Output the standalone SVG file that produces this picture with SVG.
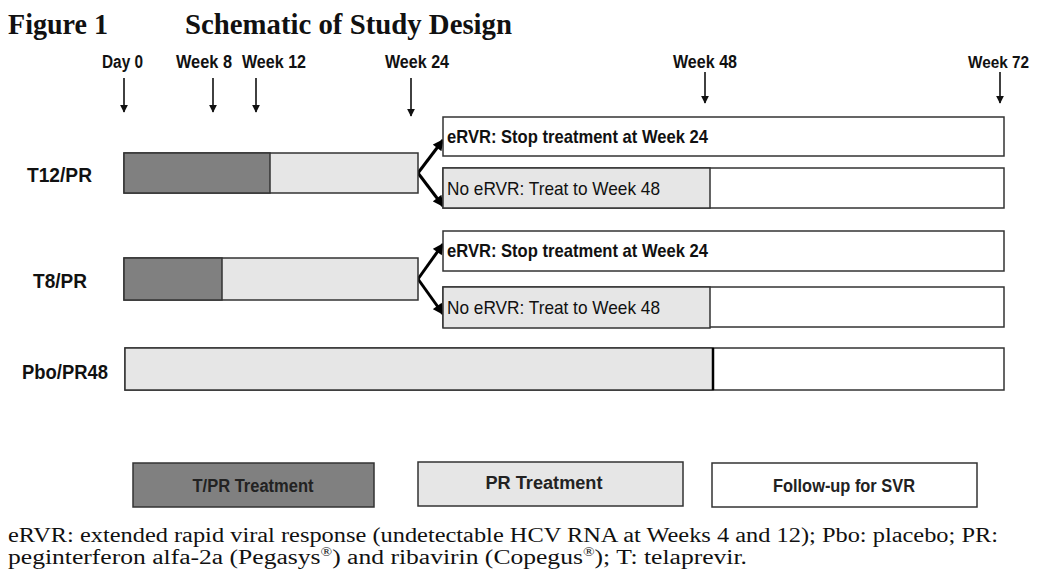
<svg xmlns="http://www.w3.org/2000/svg" width="1037" height="576" viewBox="0 0 1037 576">
<defs>
<style>
.title{font-family:"Liberation Serif","Times New Roman",serif;font-weight:bold;font-size:30px;fill:#111}
.wk{font-family:"Liberation Sans",Arial,sans-serif;font-weight:bold;font-size:18px;fill:#111}
.row{font-family:"Liberation Sans",Arial,sans-serif;font-weight:bold;font-size:20px;fill:#111}
.bx{font-family:"Liberation Sans",Arial,sans-serif;font-size:19px;fill:#111}
.b{font-weight:bold}
.leg{font-family:"Liberation Sans",Arial,sans-serif;font-weight:bold;font-size:18px;fill:#222}
.foot{font-family:"Liberation Serif","Times New Roman",serif;font-size:20px;fill:#111}
.sup{font-size:12px}
.dk{fill:#808080;stroke:#333;stroke-width:1.5}
.lt{fill:#e6e6e6;stroke:#333;stroke-width:1.5}
.wh{fill:#fff;stroke:#333;stroke-width:1.5}
.tick{stroke:#111;stroke-width:1.6;fill:none}
.br{stroke:#000;stroke-width:3;fill:none}
</style>
<marker id="ah" viewBox="0 0 10 10" refX="9" refY="5" markerWidth="8" markerHeight="8" markerUnits="userSpaceOnUse" orient="auto">
<path d="M0,0 L10,5 L0,10 z" fill="#111"/>
</marker>
<marker id="ahb" viewBox="0 0 10 10" refX="9" refY="5" markerWidth="12" markerHeight="11" markerUnits="userSpaceOnUse" orient="auto">
<path d="M0,0 L10,5 L0,10 z" fill="#000"/>
</marker>
</defs>
<rect width="1037" height="576" fill="#fff"/>

<g id="title">
<text class="title" x="8" y="34" textLength="100" lengthAdjust="spacingAndGlyphs">Figure 1</text>
<text class="title" x="185" y="34" textLength="327" lengthAdjust="spacingAndGlyphs">Schematic of Study Design</text>
</g>

<g id="timeline">
<text class="wk" x="102" y="68" textLength="41" lengthAdjust="spacingAndGlyphs">Day 0</text>
<text class="wk" x="176" y="68" textLength="56" lengthAdjust="spacingAndGlyphs">Week 8</text>
<text class="wk" x="242" y="68" textLength="64" lengthAdjust="spacingAndGlyphs">Week 12</text>
<text class="wk" x="385" y="68" textLength="64" lengthAdjust="spacingAndGlyphs">Week 24</text>
<text class="wk" x="673" y="68" textLength="64" lengthAdjust="spacingAndGlyphs">Week 48</text>
<text class="wk" x="968" y="68" textLength="61" lengthAdjust="spacingAndGlyphs" style="font-size:16px">Week 72</text>
</g>

<g id="connectors">
<line class="tick" x1="124" y1="78" x2="124" y2="112" marker-end="url(#ah)"/>
<line class="tick" x1="213" y1="78" x2="213" y2="112" marker-end="url(#ah)"/>
<line class="tick" x1="256" y1="78" x2="256" y2="112" marker-end="url(#ah)"/>
<line class="tick" x1="411" y1="78" x2="411" y2="116" marker-end="url(#ah)"/>
<line class="tick" x1="705" y1="72" x2="705" y2="103" marker-end="url(#ah)"/>
<line class="tick" x1="1000" y1="72" x2="1000" y2="103" marker-end="url(#ah)"/>
<line class="br" x1="418" y1="173" x2="443" y2="140" marker-end="url(#ahb)"/>
<line class="br" x1="418" y1="173" x2="443" y2="206" marker-end="url(#ahb)"/>
<line class="br" x1="418" y1="279" x2="443" y2="244" marker-end="url(#ahb)"/>
<line class="br" x1="418" y1="279" x2="443" y2="314" marker-end="url(#ahb)"/>
</g>

<g id="t12pr">
<text class="row" x="27" y="182" textLength="65" lengthAdjust="spacingAndGlyphs">T12/PR</text>
<rect class="lt" x="124" y="153" width="294" height="40"/>
<rect class="dk" x="124" y="153" width="146" height="40"/>
</g>
<g id="t12-ervr">
<rect class="wh" x="443" y="117" width="561" height="39"/>
<text class="bx b" x="447" y="143" textLength="261" lengthAdjust="spacingAndGlyphs">eRVR: Stop treatment at Week 24</text>
</g>
<g id="t12-noervr">
<rect class="wh" x="443" y="168" width="561" height="40"/>
<rect class="lt" x="443" y="168" width="267" height="40"/>
<text class="bx" x="447" y="195" textLength="213" lengthAdjust="spacingAndGlyphs">No eRVR: Treat to Week 48</text>
</g>

<g id="t8pr">
<text class="row" x="33" y="288" textLength="54" lengthAdjust="spacingAndGlyphs">T8/PR</text>
<rect class="lt" x="124" y="258" width="294" height="42"/>
<rect class="dk" x="124" y="258" width="98" height="42"/>
</g>
<g id="t8-ervr">
<rect class="wh" x="443" y="231" width="561" height="40"/>
<text class="bx b" x="447" y="257" textLength="261" lengthAdjust="spacingAndGlyphs">eRVR: Stop treatment at Week 24</text>
</g>
<g id="t8-noervr">
<rect class="wh" x="443" y="287" width="561" height="40"/>
<rect class="lt" x="443" y="287" width="267" height="41"/>
<text class="bx" x="447" y="314" textLength="213" lengthAdjust="spacingAndGlyphs">No eRVR: Treat to Week 48</text>
</g>

<g id="pbo">
<text class="row" x="22" y="379" textLength="86" lengthAdjust="spacingAndGlyphs">Pbo/PR48</text>
<rect class="wh" x="125" y="348" width="879" height="42"/>
<rect class="lt" x="125" y="348" width="588" height="42"/>
<line x1="713" y1="348" x2="713" y2="390" stroke="#000" stroke-width="2.5"/>
</g>

<g id="legend-tpr">
<rect class="dk" x="133" y="463" width="241" height="44"/>
<text class="leg" x="253" y="492" text-anchor="middle" textLength="121" lengthAdjust="spacingAndGlyphs">T/PR Treatment</text>
</g>
<g id="legend-pr">
<rect class="lt" x="418" y="462" width="265" height="44"/>
<text class="leg" x="544" y="489" text-anchor="middle" textLength="117" lengthAdjust="spacingAndGlyphs">PR Treatment</text>
</g>
<g id="legend-fu">
<rect class="wh" x="712" y="463" width="265" height="44"/>
<text class="leg" x="844" y="492" text-anchor="middle" textLength="142" lengthAdjust="spacingAndGlyphs" fill="#111">Follow-up for SVR</text>
</g>

<g id="footnote">
<text class="foot" x="8" y="542" textLength="990" lengthAdjust="spacingAndGlyphs">eRVR: extended rapid viral response (undetectable HCV RNA at Weeks 4 and 12); Pbo: placebo; PR:</text>
<text class="foot" x="8" y="564" textLength="739" lengthAdjust="spacingAndGlyphs">peginterferon alfa-2a (Pegasys<tspan class="sup" dy="-8">®</tspan><tspan dy="8">) and ribavirin (Copegus</tspan><tspan class="sup" dy="-8">®</tspan><tspan dy="8">); T: telaprevir.</tspan></text>
</g>
</svg>
